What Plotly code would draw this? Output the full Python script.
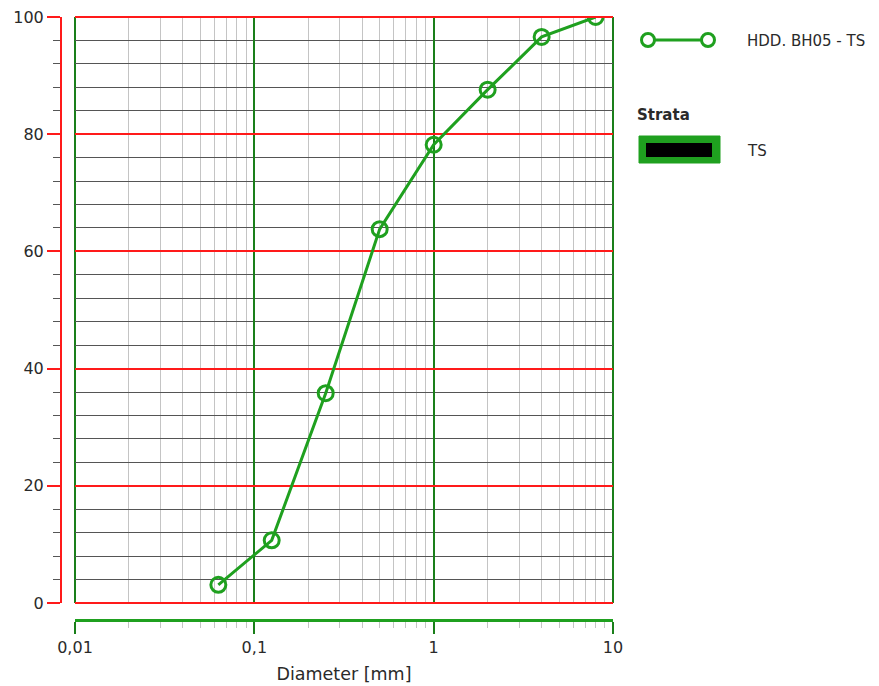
import plotly.graph_objects as go

# ---- data ----
diameter_mm = [0.063, 0.125, 0.25, 0.5, 1, 2, 4, 8]
passing_pct = [3.1, 10.7, 35.8, 63.8, 78.2, 87.6, 96.6, 100.0]
series_name = "HDD. BH05 - TS"
strata_title = "Strata"
strata_name = "TS"
x_tick_vals = [0.01, 0.1, 1, 10]
x_tick_text = ["0,01", "0,1", "1", "10"]
y_tick_vals = [0, 20, 40, 60, 80, 100]

# page offset (browser body margin)
OFF = 8
W, H = 879, 686
ML, MR, MT, MB = 61, 266, 17, 66
PW, PH = W - ML - MR, H - MT - MB

def px(xp):
    return (xp - ML) / PW

def py(yp):
    return (H - MB - yp) / PH

GREEN = "#1fa01f"
DKGREEN = "#1a7f1a"
RED = "#ff1a1a"
FONT = "DejaVu Sans"
TXT = "#2a2a2a"

minor_x = [k * 10 ** e for e in (-2, -1, 0) for k in range(2, 10)]

fig = go.Figure()
fig.add_trace(go.Scatter(
    x=diameter_mm, y=passing_pct, mode="lines+markers", name=series_name,
    line=dict(color=GREEN, width=3),
    marker=dict(symbol="circle-open", size=15, color=GREEN, line=dict(color=GREEN, width=3)),
    showlegend=False, cliponaxis=True,
))

fig.update_layout(
    width=W - OFF, height=H - OFF,
    margin=dict(l=ML - OFF, r=MR, t=MT - OFF, b=MB, autoexpand=False),
    paper_bgcolor="white", plot_bgcolor="white", showlegend=False,
    font=dict(family=FONT, size=16, color=TXT),
    xaxis=dict(
        type="log", range=[-2, 1], domain=[(75 - ML) / PW, 1],
        anchor="free", position=0, automargin=False, ticklabeloverflow="allow",
        tickmode="array", tickvals=x_tick_vals, ticktext=x_tick_text,
        showgrid=True, gridcolor=DKGREEN, gridwidth=2,
        showline=True, linecolor=GREEN, linewidth=3,
        ticks="outside", ticklen=12, tickwidth=2, tickcolor=DKGREEN,
        zeroline=False,
        minor=dict(tickmode="array", tickvals=minor_x, showgrid=True,
                   gridcolor="#c4c4c4", gridwidth=1,
                   ticks="outside", ticklen=6, tickcolor="#c4c4c4", tickwidth=1),
        title=dict(text="Diameter [mm]", font=dict(size=17.5), standoff=11),
    ),
    yaxis=dict(
        range=[0, 100], domain=[(620 - 603) / PH, 1],
        anchor="free", position=0, automargin=False, ticklabeloverflow="allow",
        tickmode="array", tickvals=y_tick_vals,
        showgrid=True, gridcolor=RED, gridwidth=2,
        showline=True, linecolor=RED, linewidth=2,
        ticks="outside", ticklen=13, tickwidth=2, tickcolor=RED,
        zeroline=False,
        minor=dict(dtick=4, tick0=0, showgrid=True, gridcolor="#555555", gridwidth=1,
                   ticks="outside", ticklen=7, tickcolor="#555555", tickwidth=1),
    ),
)

shapes = []
annotations = []
# ---- plot frame (edge grid lines) ----
for yv in (0, 1):
    shapes.append(dict(type="line", xref="x domain", yref="y domain",
                       x0=0, x1=1, y0=yv, y1=yv, line=dict(color=RED, width=2),
                       layer="above"))
for xv in (0, 1):
    shapes.append(dict(type="line", xref="x domain", yref="y domain",
                       x0=xv, x1=xv, y0=0, y1=1, line=dict(color=DKGREEN, width=2),
                       layer="below"))

# ---- custom legend ----
shapes.append(dict(type="line", xref="paper", yref="paper",
                   x0=px(648), x1=px(708), y0=py(40), y1=py(40),
                   line=dict(color=GREEN, width=3)))
for cx in (648, 708):
    shapes.append(dict(type="circle", xref="paper", yref="paper",
                       x0=px(cx - 6.5), x1=px(cx + 6.5), y0=py(46.5), y1=py(33.5),
                       fillcolor="white", line=dict(color=GREEN, width=3)))
annotations.append(dict(xref="paper", yref="paper", x=px(745), y=py(41),
                        xanchor="left", yanchor="middle", showarrow=False,
                        text=series_name, font=dict(size=15, color=TXT)))
annotations.append(dict(xref="paper", yref="paper", x=px(635), y=py(115),
                        xanchor="left", yanchor="middle", showarrow=False,
                        text="<b>" + strata_title + "</b>", font=dict(size=15, color=TXT)))
shapes.append(dict(type="rect", xref="paper", yref="paper",
                   x0=px(639), x1=px(720), y0=py(163), y1=py(136),
                   fillcolor=GREEN, line=dict(color=GREEN, width=1)))
shapes.append(dict(type="rect", xref="paper", yref="paper",
                   x0=px(646), x1=px(712), y0=py(157), y1=py(143),
                   fillcolor="black", line=dict(width=0)))
annotations.append(dict(xref="paper", yref="paper", x=px(745), y=py(151),
                        xanchor="left", yanchor="middle", showarrow=False,
                        text=strata_name, font=dict(size=15, color=TXT)))

fig.update_layout(shapes=shapes, annotations=annotations)
fig.write_html("out.html")
